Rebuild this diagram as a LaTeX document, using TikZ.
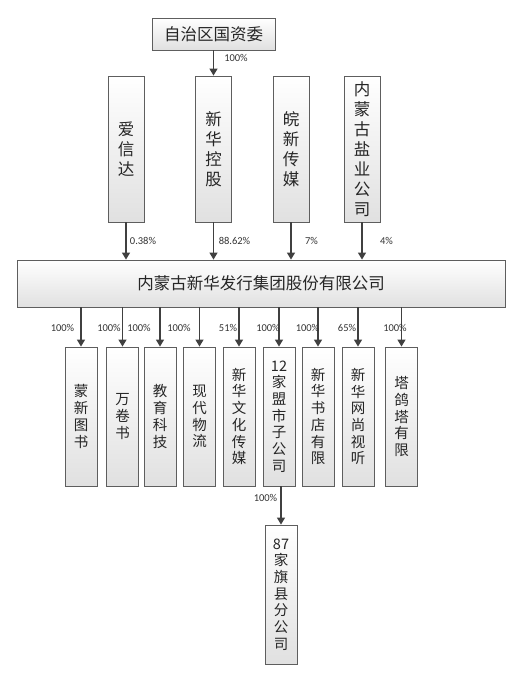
\documentclass[tikz,border=0pt]{standalone}
\usepackage{fontspec}
\newfontfamily\cjk{Noto Sans CJK SC}
\newfontfamily\lat{Carlito}
\usetikzlibrary{arrows.meta}
\definecolor{edge}{HTML}{5E5E5E}
\definecolor{arr}{HTML}{404040}
\tikzset{
  box/.style={draw=edge, line width=0.9pt, top color=white, bottom color=black!12, inner sep=0pt, align=center, text=black!85},
  bigtxt/.style={font=\cjk\fontsize{16.5}{20}\selectfont},
  smalltxt/.style={font=\cjk\fontsize{14.5}{16.7}\selectfont},
  pct/.style={font=\lat\fontsize{10.5}{12}\selectfont, text=black!80, inner sep=0pt},
  arrow/.style={draw=arr, line width=1.3pt, -{Triangle[length=7pt,width=8pt]}}
}
\begin{document}
\begin{tikzpicture}[x=1pt,y=-1pt]
\useasboundingbox (0,0) rectangle (516,675);
% top
\node[box,bigtxt,minimum width=123pt,minimum height=32pt] (gzw) at (213.5,34) {自治区国资委};
% row 2
\node[box,bigtxt,minimum width=36pt,minimum height=146pt] (axd) at (126,149) {爱\\信\\达};
\node[box,bigtxt,minimum width=36pt,minimum height=146pt] (xhkg) at (213.5,149) {新\\华\\控\\股};
\node[box,bigtxt,minimum width=36pt,minimum height=146pt] (wxcm) at (291,149) {皖\\新\\传\\媒};
\node[box,bigtxt,minimum width=36pt,minimum height=146pt] (nmyy) at (362,149) {内\\蒙\\古\\盐\\业\\公\\司};
% main
\node[box,bigtxt,minimum width=488pt,minimum height=47pt] (main) at (261,283.5) {内蒙古新华发行集团股份有限公司};
% bottom row
\node[box,smalltxt,minimum width=32pt,minimum height=139pt] (b1) at (81,416.5) {蒙\\新\\图\\书};
\node[box,smalltxt,minimum width=32pt,minimum height=139pt] (b2) at (122.5,416.5) {万\\卷\\书};
\node[box,smalltxt,minimum width=32pt,minimum height=139pt] (b3) at (160,416.5) {教\\育\\科\\技};
\node[box,smalltxt,minimum width=32pt,minimum height=139pt] (b4) at (199.5,416.5) {现\\代\\物\\流};
\node[box,smalltxt,minimum width=32pt,minimum height=139pt] (b5) at (239,416.5) {新\\华\\文\\化\\传\\媒};
\node[box,smalltxt,minimum width=32pt,minimum height=139pt] (b6) at (279,416.5) {12\\家\\盟\\市\\子\\公\\司};
\node[box,smalltxt,minimum width=32pt,minimum height=139pt] (b7) at (318,416.5) {新\\华\\书\\店\\有\\限};
\node[box,smalltxt,minimum width=32pt,minimum height=139pt] (b8) at (358,416.5) {新\\华\\网\\尚\\视\\听};
\node[box,smalltxt,minimum width=32pt,minimum height=139pt] (b9) at (401.5,416.5) {塔\\鸽\\塔\\有\\限};
% last
\node[box,smalltxt,minimum width=32pt,minimum height=139pt] (qx) at (281,594.5) {87\\家\\旗\\县\\分\\公\\司};
% arrows
\draw[arrow] (gzw.south -| xhkg.north) -- (xhkg.north);
\foreach \n in {axd,xhkg,wxcm,nmyy}{
  \draw[arrow] (\n.south) -- (\n.south |- main.north);
}
\foreach \n in {b1,b2,b3,b4,b5,b6,b7,b8,b9}{
  \draw[arrow] (main.south -| \n.north) -- (\n.north);
}
\draw[arrow] (b6.south -| qx.north) -- (qx.north);
% labels
\node[pct] (l0) at (236,58) {100\%};
\node[pct] (l1) at (143,241) {0.38\%};
\node[pct] (l2) at (234.5,241) {88.62\%};
\node[pct] (l3) at (311.5,241) {7\%};
\node[pct] (l4) at (386.5,241) {4\%};
\node[pct] (m1) at (62.5,328) {100\%};
\node[pct] (m2) at (109,328) {100\%};
\node[pct] (m3) at (139,328) {100\%};
\node[pct] (m4) at (179,328) {100\%};
\node[pct] (m5) at (228,328) {51\%};
\node[pct] (m6) at (268,328) {100\%};
\node[pct] (m7) at (307.5,328) {100\%};
\node[pct] (m8) at (347,328) {65\%};
\node[pct] (m9) at (395,328) {100\%};
\node[pct] (n1) at (265.5,498) {100\%};
\end{tikzpicture}
\end{document}
